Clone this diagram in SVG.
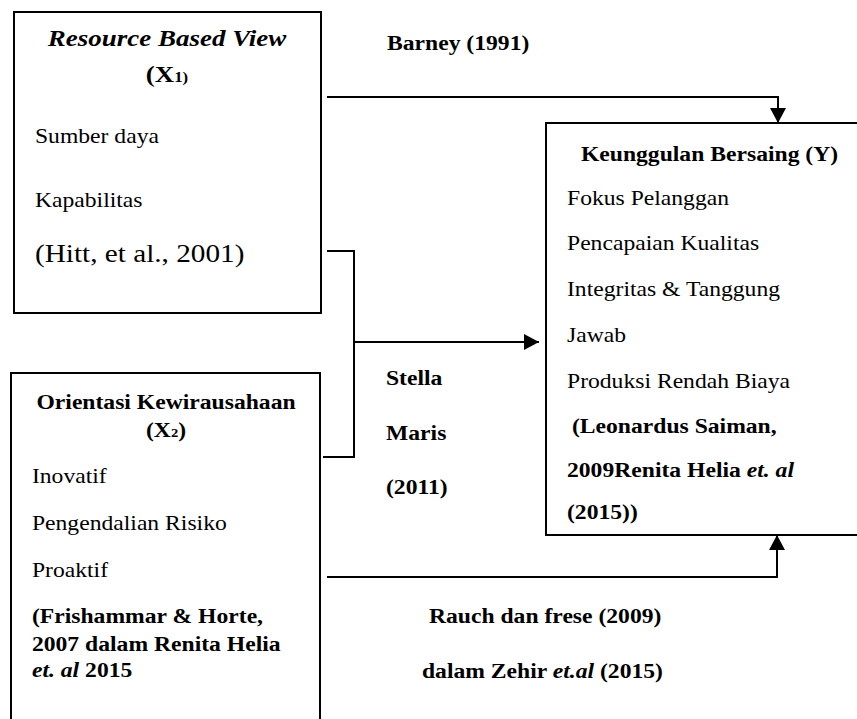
<svg xmlns="http://www.w3.org/2000/svg" width="857" height="719" viewBox="0 0 857 719">
<style>
.box{fill:#fff;stroke:#000;stroke-width:2}
.con{fill:none;stroke:#000;stroke-width:2}
text{font-family:"Liberation Serif","Times New Roman",serif;font-size:21px;fill:#000}
.b{font-weight:bold}
.i{font-style:italic}
.c{text-anchor:middle}
.big{font-size:26px}
.title{font-size:24px}
</style>
<defs>
<marker id="ah" markerUnits="userSpaceOnUse" markerWidth="15" markerHeight="16" refX="15" refY="8" orient="auto">
<path d="M0,0 L15,8 L0,16 z" fill="#000"/>
</marker>
</defs>
<rect width="857" height="719" fill="#fff"/>
<g id="connectors">
<path class="con" d="M327,97 H778 V123" marker-end="url(#ah)"/>
<path class="con" d="M327,251 H354 V457 H323"/>
<path class="con" d="M354,342 H539" marker-end="url(#ah)"/>
<path class="con" d="M327,577 H777 V535" marker-end="url(#ah)"/>
</g>
<g id="node-x1">
<rect class="box" x="14" y="12" width="307" height="301"/>
<g transform="scale(1.125 1)">
<text class="b i c title" x="148.4" y="46">Resource Based View</text>
<text class="b c title" x="148.4" y="82">(X<tspan font-size="15">1)</tspan></text>
<text x="31.1" y="143">Sumber daya</text>
<text x="31.1" y="207">Kapabilitas</text>
<text class="big" x="31.1" y="262">(Hitt, et al., 2001)</text>
</g>
</g>
<g id="node-y">
<rect class="box" x="546" y="123" width="320" height="412"/>
<g transform="scale(1.125 1)">
<text class="b" x="516.4" y="161">Keunggulan Bersaing (Y)</text>
<text x="504" y="205">Fokus Pelanggan</text>
<text x="504" y="250">Pencapaian Kualitas</text>
<text x="504" y="296">Integritas &amp; Tanggung</text>
<text x="504" y="342">Jawab</text>
<text x="504" y="388">Produksi Rendah Biaya</text>
<text class="b" x="508.4" y="433">(Leonardus Saiman,</text>
<text class="b" x="504" y="477">2009Renita Helia <tspan class="i">et. al</tspan></text>
<text class="b" x="504" y="519">(2015))</text>
</g>
</g>
<g id="node-x2">
<rect class="box" x="11" y="373" width="309" height="360"/>
<g transform="scale(1.125 1)">
<text class="b c" x="147.6" y="409">Orientasi Kewirausahaan</text>
<text class="b c" x="147.6" y="437">(X<tspan font-size="13">2</tspan>)</text>
<text x="28.4" y="483">Inovatif</text>
<text x="28.4" y="530">Pengendalian Risiko</text>
<text x="28.4" y="577">Proaktif</text>
<text class="b" x="28.4" y="623">(Frishammar &amp; Horte,</text>
<text class="b" x="28.4" y="651">2007 dalam Renita Helia</text>
<text class="b" x="28.4" y="677"><tspan class="i">et. al</tspan> 2015</text>
</g>
</g>
<g id="labels" transform="scale(1.125 1)">
<text class="b" x="344" y="50">Barney (1991)</text>
<text class="b" x="343.1" y="385">Stella</text>
<text class="b" x="343.1" y="440">Maris</text>
<text class="b" x="343.1" y="494">(2011)</text>
<text class="b" x="381.3" y="623">Rauch dan frese (2009)</text>
<text class="b" x="375.1" y="678">dalam  Zehir <tspan class="i">et.al</tspan> (2015)</text>
</g>
</svg>
